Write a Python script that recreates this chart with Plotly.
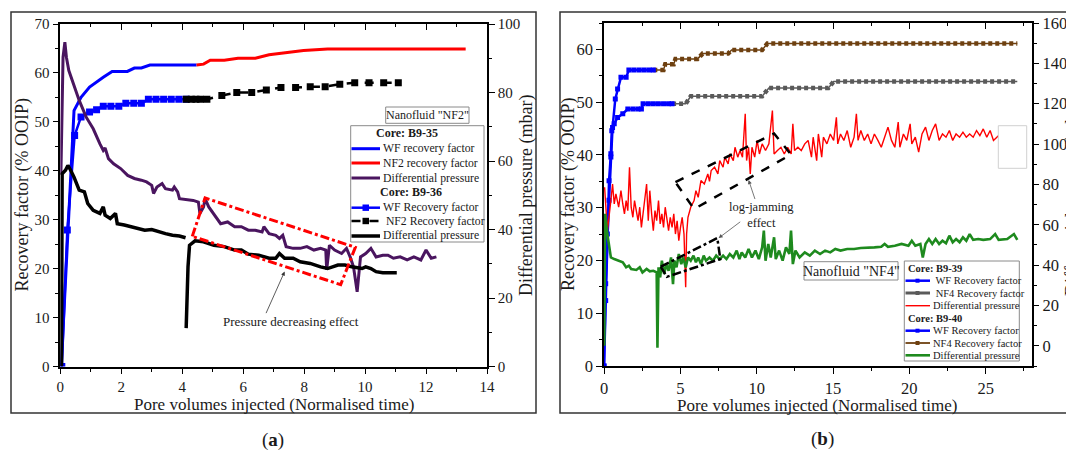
import plotly.graph_objects as go

W, H = 1074, 451
OFF = 8  # page body margin in the browser
FONT = "Liberation Serif"

# ---------------- Panel (a) data ----------------
a_wf35_x = [0.03, 0.45, 0.68, 0.96, 1.41, 1.70, 2.20, 2.43, 2.66, 2.94, 4.47]
a_wf35_y = [0.0, 52.3, 55.0, 57.1, 59.1, 60.3, 60.3, 61.0, 61.0, 61.6, 61.6]
a_nf2_35_x = [4.47, 4.70, 4.92, 5.38, 5.83, 6.40, 6.85, 7.41, 7.98, 8.77, 13.3]
a_nf2_35_y = [61.6, 61.8, 62.6, 62.6, 63.0, 63.0, 63.7, 64.1, 64.6, 64.9, 64.9]

a_wf36_x = [0.05, 0.23, 0.47, 0.68, 0.96, 1.19, 1.41, 1.66, 1.92, 2.15, 2.41, 2.66,
            2.89, 3.14, 3.39, 3.64, 3.89, 4.13]
a_wf36_y = [0.0, 27.9, 47.2, 51.0, 52.0, 52.5, 53.2, 53.2, 53.2, 53.8, 53.8, 53.8,
            54.6, 54.6, 54.6, 54.6, 54.6, 54.6]
a_nf2_36_x = [4.13, 4.30, 4.45, 4.60, 4.81, 5.30, 5.79, 6.28, 6.76, 7.24, 7.72, 8.20,
              8.69, 9.17, 9.66, 10.13, 10.61, 11.09]
a_nf2_36_y = [54.6, 54.6, 54.6, 54.6, 54.6, 55.4, 56.0, 56.0, 56.5, 57.0, 57.0, 57.2,
              57.2, 57.7, 58.0, 58.0, 58.0, 58.0]

a_dp35_x = [0.02, 0.09, 0.15, 0.20, 0.28, 0.45, 0.62, 0.85, 1.08, 1.30, 1.41, 1.47,
            1.58, 1.75, 1.98, 2.21, 2.43, 2.66, 2.83, 3.00, 3.06, 3.17, 3.34, 3.45,
            3.68, 3.74, 3.85, 3.91, 4.13, 4.36, 4.53, 4.58, 4.70, 4.75, 4.87, 5.09,
            5.26, 5.49, 5.72, 5.94, 6.17, 6.40, 6.62, 6.68, 6.85, 7.07, 7.19, 7.30,
            7.41, 7.64, 7.87, 8.09, 8.32, 8.54, 8.71, 8.74, 8.83, 9.00, 9.23, 9.39,
            9.51, 9.62, 9.74, 9.85, 10.02, 10.19, 10.36, 10.58, 10.75, 10.93, 11.15,
            11.38, 11.60, 11.83, 12.00, 12.17, 12.34]
a_dp35_y = [56.0, 90.3, 94.7, 90.3, 86.4, 82.0, 77.7, 72.8, 69.4, 65.0, 63.1, 63.8,
            60.7, 59.2, 57.8, 55.8, 54.9, 54.4, 53.9, 52.9, 50.5, 52.4, 53.4, 51.9,
            51.5, 52.4, 51.0, 49.0, 48.7, 48.5, 48.0, 44.7, 46.6, 49.0, 46.6, 43.7,
            41.7, 42.2, 40.8, 40.8, 39.8, 39.8, 39.3, 40.8, 38.8, 38.3, 37.4, 38.3,
            35.0, 34.5, 34.5, 35.0, 34.0, 34.5, 34.0, 28.2, 35.4, 34.0, 33.0, 34.5,
            32.0, 29.1, 21.8, 32.0, 33.0, 34.5, 32.0, 32.5, 32.5, 31.6, 32.0, 31.1,
            32.0, 31.1, 34.0, 31.6, 32.0]

a_dp36_x = [0.04, 0.06, 0.17, 0.25, 0.34, 0.45, 0.62, 0.79, 0.90, 1.08, 1.30, 1.41,
            1.47, 1.64, 1.81, 1.87, 2.10, 2.32, 2.55, 2.77, 3.00, 3.23, 3.45, 3.68,
            3.91, 4.11, None, 4.13, 4.19, 4.24, 4.42, 4.70, 5.04, 5.38, 5.72, 5.94,
            6.17, 6.51, 6.85, 7.07, 7.19, 7.36, 7.64, 7.87, 8.20, 8.54, 8.77, 9.11,
            9.34, 9.56, 9.90, 10.02, 10.19, 10.36, 10.58, 10.81, 11.04]
a_dp36_y = [0.0, 56.3, 57.3, 58.7, 57.3, 55.3, 51.5, 51.0, 47.6, 45.6, 44.7, 46.6,
            44.2, 43.2, 44.7, 41.7, 41.3, 40.8, 40.3, 39.8, 40.0, 39.3, 38.8, 38.3,
            38.1, 37.6, None, 11.2, 29.1, 35.4, 36.7, 36.4, 35.4, 35.0, 34.0, 34.0,
            32.8, 32.5, 31.6, 31.6, 33.0, 31.6, 31.6, 30.6, 30.1, 29.1, 28.6, 29.6,
            29.6, 29.1, 28.6, 29.1, 28.6, 27.7, 27.4, 27.4, 27.4]

# ---------------- Panel (b) data ----------------
b_wf39_x = [0.00, 0.11, 0.22, 0.33, 0.45, 0.51, 0.67, 0.89, 1.23, 1.56, 1.90, 2.23,
            2.45, 2.56, 2.90, 3.23, 3.56, 3.90, 4.23, 4.46]
b_wf39_y = [0.0, 12.4, 25.0, 35.1, 40.2, 44.6, 45.9, 47.1, 47.8, 48.7, 48.7, 48.7,
            48.7, 49.7, 49.7, 49.7, 49.7, 49.7, 49.7, 49.7]
b_nf4_39_x = [4.46, 5.35, 5.68, 10.36, 10.80, 14.70, 15.04, 27.07]
b_nf4_39_y = [49.7, 49.7, 51.1, 51.1, 52.7, 52.7, 53.9, 53.9]

b_wf40_x = [0.00, 0.11, 0.33, 0.45, 0.56, 0.74, 0.89, 1.11, 1.45, 1.63, 1.96, 2.30,
            2.63, 2.96, 3.23]
b_wf40_y = [0.0, 15.6, 31.4, 39.6, 45.2, 50.6, 52.5, 54.7, 54.7, 56.1, 56.1, 56.1,
            56.1, 56.1, 56.1]
b_nf4_40_x = [3.23, 3.90, 4.01, 4.57, 4.68, 6.13, 6.46, 8.13, 8.36, 10.36, 10.70, 27.07]
b_nf4_40_y = [56.1, 56.1, 57.2, 57.2, 58.2, 58.2, 59.2, 59.2, 59.9, 59.9, 61.1, 61.1]

b_dp39_x = [0.04, 0.11, 0.22, 0.45, 0.56, 0.67, 0.78, 0.96, 1.11, 1.23, 1.34, 1.45,
            1.56, 1.67, 1.78, 1.89, 2.00, 2.23, 2.34, 2.45, 2.56, 2.79, 2.90, 3.00,
            3.12, 3.23, 3.34, 3.45, 3.57, 3.68, 3.79, 3.90, 4.01, 4.12, 4.23, 4.34,
            4.46, 4.57, 4.68, 4.79, 4.90, 5.01, 5.12, 5.24, 5.35, 5.41, 5.50, 5.68,
            5.90, 6.02, 6.17, 6.35, 6.57, 6.80, 6.91, 7.02, 7.24, 7.46, 7.58, 7.80,
            7.91, 8.13, 8.24, 8.47, 8.58, 8.76, 8.91, 9.07, 9.25, 9.34, 9.47, 9.58,
            9.69, 9.87, 10.03, 10.18, 10.36, 10.58, 10.80, 11.03, 11.14, 11.36, 11.59,
            11.81, 12.03, 12.26, 12.37, 12.48, 12.70, 12.92, 13.15, 13.37, 13.59, 13.70,
            13.93, 14.04, 14.26, 14.37, 14.60, 14.82, 15.04, 15.22, 15.31, 15.49, 15.71,
            15.93, 16.16, 16.38, 16.53, 16.64, 16.82, 17.05, 17.27, 17.49, 17.71, 17.94,
            18.16, 18.38, 18.60, 18.83, 19.05, 19.27, 19.38, 19.61, 19.83, 20.05, 20.16,
            20.39, 20.61, 20.83, 21.06, 21.28, 21.50, 21.72, 21.95, 22.17, 22.40, 22.62,
            22.84, 23.06, 23.29, 23.51, 23.73, 23.95, 24.18, 24.40, 24.62, 24.84, 25.07,
            25.29, 25.51, 25.85]
b_dp39_y = [78.6, 68.7, 57.0, 72.0, 80.2, 70.3, 75.3, 68.7, 76.9, 70.3, 65.4, 72.0,
            67.0, 88.5, 68.7, 63.7, 72.0, 62.0, 68.7, 58.7, 65.4, 80.2, 62.0, 76.9,
            65.4, 57.1, 67.0, 62.0, 72.0, 60.4, 65.4, 58.7, 68.7, 62.0, 57.1, 63.7,
            58.7, 65.4, 55.4, 62.0, 52.1, 58.7, 63.7, 55.4, 29.0, 55.4, 63.7, 68.7,
            72.0, 76.9, 73.6, 81.9, 80.2, 85.2, 81.5, 86.9, 88.5, 85.2, 91.8, 88.5,
            93.5, 90.2, 95.1, 91.8, 98.4, 93.5, 96.8, 93.5, 115.0, 91.8, 98.4, 85.2,
            98.4, 93.5, 101.8, 95.1, 100.1, 96.8, 100.1, 116.6, 95.1, 96.8, 98.4,
            95.1, 98.4, 95.1, 110.0, 96.8, 98.4, 96.8, 100.1, 101.8, 93.5, 103.4,
            91.8, 105.0, 93.5, 103.4, 100.1, 105.0, 101.8, 113.3, 100.1, 105.0, 101.8,
            106.7, 98.4, 103.4, 115.0, 101.8, 106.7, 101.8, 105.0, 100.1, 105.0, 101.8,
            98.4, 103.4, 108.4, 101.8, 98.4, 110.9, 98.4, 105.0, 101.8, 110.0, 100.1,
            103.4, 96.0, 105.0, 108.4, 101.8, 106.7, 110.0, 101.8, 105.0, 103.4, 106.7,
            101.8, 105.0, 103.4, 105.9, 103.4, 105.0, 103.4, 106.7, 104.2, 107.5, 103.4,
            106.7, 101.8, 104.2]

b_dp40_x = [0.02, 0.07, 0.22, 0.33, 0.45, 0.67, 1.00, 1.23, 1.45, 1.63, 1.78, 2.12,
            2.34, 2.52, 2.79, 3.00, 3.23, 3.45, 3.50, 3.57, 3.68, 3.79, 3.94, 4.08,
            4.23, 4.39, 4.52, 4.61, 4.75, 4.90, 5.06, 5.19, 5.35, 5.50, 5.68, 5.86,
            6.02, 6.17, 6.35, 6.53, 6.68, 6.91, 7.13, 7.35, 7.58, 7.80, 8.02, 8.24,
            8.47, 8.69, 8.87, 9.02, 9.25, 9.47, 9.69, 9.92, 10.14, 10.36, 10.47, 10.58,
            10.76, 10.92, 11.14, 11.25, 11.47, 11.70, 11.92, 12.14, 12.25, 12.37, 12.54,
            12.81, 13.15, 13.48, 13.81, 14.15, 14.48, 14.82, 15.15, 15.49, 15.93, 16.38,
            16.82, 17.27, 17.71, 18.16, 18.38, 18.60, 19.05, 19.49, 19.94, 20.16, 20.39,
            20.72, 20.88, 21.06, 21.28, 21.50, 21.72, 21.95, 22.17, 22.40, 22.62, 22.84,
            23.06, 23.29, 23.51, 23.73, 23.95, 24.18, 24.51, 24.84, 25.29, 25.62, 25.85,
            26.41, 26.85, 27.07]
b_dp40_y = [0.0, 65.4, 55.4, 48.8, 43.8, 43.0, 42.2, 41.4, 38.9, 39.7, 38.1, 37.6,
            38.9, 36.4, 38.1, 36.9, 37.2, 36.4, -1.0, 38.9, 33.9, 42.2, 35.6, 40.5,
            37.2, 43.8, 30.6, 42.2, 38.9, 45.5, 40.5, 43.8, 38.9, 43.8, 42.2, 44.7,
            41.4, 43.8, 40.5, 44.7, 42.2, 43.8, 42.2, 44.7, 43.0, 44.7, 43.0, 45.5,
            43.8, 47.2, 43.0, 46.3, 43.8, 48.0, 43.8, 47.2, 43.0, 48.8, 57.1, 42.2,
            50.5, 43.8, 53.8, 43.0, 47.2, 42.2, 48.8, 45.5, 57.1, 40.5, 47.2,
            43.8, 46.3, 44.7, 47.2, 45.5, 47.2, 46.3, 48.0, 47.2, 48.0, 48.0,
            48.5, 48.5, 48.8, 49.1, 50.5, 49.1, 49.6, 50.5, 49.6, 52.1, 49.6,
            50.5, 43.8, 50.5, 52.9, 50.5, 52.9, 50.5, 52.1, 50.8, 54.6, 51.3,
            52.9, 51.3, 53.8, 52.1, 55.4, 52.5, 52.9, 52.5, 52.9, 55.4, 52.5,
            52.9, 55.4, 52.5]

# annotation outlines (data coordinates)
a_box_x = [4.33, 4.75, 9.68, 9.20, 4.33]
a_box_p = [38.0, 49.2, 34.8, 23.9, 38.0]
b_box1_x = [4.68, 11.14, 12.25, 5.90, 4.68]
b_box1_p = [81.1, 105.2, 94.8, 67.8, 81.1]
b_box2_x = [3.72, 7.42, 7.62, 4.12, 3.72]
b_box2_p = [39.2, 53.4, 43.0, 34.2, 39.2]

BLUE = "#0000ff"
RED = "#ff0000"
PURPLE = "#4a155f"
GREY = "#5a5a5a"
BROWN = "#6e4010"
GREEN = "#1e8a1e"


def px(x):
    return (x - OFF) / W


def py(y):
    return 1 - (y - OFF) / H


fig = go.Figure()

# panel (a)
fig.add_trace(go.Scatter(x=a_wf35_x, y=a_wf35_y, mode="lines", line=dict(color=BLUE, width=3),
                         xaxis="x", yaxis="y", showlegend=False))
fig.add_trace(go.Scatter(x=a_nf2_35_x, y=a_nf2_35_y, mode="lines", line=dict(color=RED, width=3),
                         xaxis="x", yaxis="y", showlegend=False))
fig.add_trace(go.Scatter(x=a_dp35_x, y=a_dp35_y, mode="lines", line=dict(color=PURPLE, width=3),
                         xaxis="x", yaxis="y2", showlegend=False))
fig.add_trace(go.Scatter(x=a_dp36_x, y=a_dp36_y, mode="lines", line=dict(color="black", width=3.5),
                         xaxis="x", yaxis="y2", showlegend=False, connectgaps=False))
fig.add_trace(go.Scatter(x=a_wf36_x, y=a_wf36_y, mode="lines+markers",
                         line=dict(color=BLUE, width=2.5),
                         marker=dict(symbol="square", size=7, color=BLUE),
                         xaxis="x", yaxis="y", showlegend=False))
fig.add_trace(go.Scatter(x=a_nf2_36_x, y=a_nf2_36_y, mode="lines+markers",
                         line=dict(color="black", width=2.5, dash="dash"),
                         marker=dict(symbol="square", size=7, color="black"),
                         xaxis="x", yaxis="y", showlegend=False))
fig.add_trace(go.Scatter(x=[None], y=[None], xaxis="x3", yaxis="y", showlegend=False))

# panel (b)
fig.add_trace(go.Scatter(x=b_dp39_x, y=b_dp39_y, mode="lines", line=dict(color=RED, width=1.4),
                         xaxis="x2", yaxis="y4", showlegend=False))
fig.add_trace(go.Scatter(x=b_dp40_x, y=b_dp40_y, mode="lines", line=dict(color=GREEN, width=2.6),
                         xaxis="x2", yaxis="y4", showlegend=False))
for xs, ys, col in [(b_nf4_39_x, b_nf4_39_y, GREY), (b_nf4_40_x, b_nf4_40_y, BROWN)]:
    fig.add_trace(go.Scatter(x=xs, y=ys, mode="lines", line=dict(color=col, width=1.5),
                             xaxis="x2", yaxis="y3", showlegend=False))
    fig.add_trace(go.Scatter(x=xs, y=ys, mode="lines", line=dict(color=col, width=4.5, dash="4px,3px"),
                             xaxis="x2", yaxis="y3", showlegend=False))
for xs, ys in [(b_wf39_x, b_wf39_y), (b_wf40_x, b_wf40_y)]:
    fig.add_trace(go.Scatter(x=xs, y=ys, mode="lines+markers", line=dict(color=BLUE, width=2.5),
                             marker=dict(size=5, color=BLUE, symbol="square"),
                             xaxis="x2", yaxis="y3", showlegend=False))
fig.add_trace(go.Scatter(x=[None], y=[None], xaxis="x4", yaxis="y3", showlegend=False))

# dashed outline shapes
fig.add_trace(go.Scatter(x=a_box_x, y=a_box_p, mode="lines", line=dict(color=RED, width=3, dash="dashdot"),
                         xaxis="x", yaxis="y2", showlegend=False, hoverinfo="skip"))
fig.add_trace(go.Scatter(x=b_box1_x, y=b_box1_p, mode="lines", line=dict(color="black", width=2.5, dash="dash"),
                         xaxis="x2", yaxis="y4", showlegend=False, hoverinfo="skip"))
fig.add_trace(go.Scatter(x=b_box2_x, y=b_box2_p, mode="lines", line=dict(color="black", width=2.5, dash="dashdot"),
                         xaxis="x2", yaxis="y4", showlegend=False, hoverinfo="skip"))

tickfont_a = dict(family=FONT, size=15, color="#1a1a1a")
tickfont_b = dict(family=FONT, size=16.5, color="#1a1a1a")
ax_common = dict(showline=True, linecolor="black", linewidth=1.5, showgrid=False, zeroline=False,
                 ticks="outside", ticklen=6, tickwidth=1.3, tickcolor="black", automargin=False)
top_common = dict(showticklabels=False, showline=True, linecolor="black", linewidth=1.5, showgrid=False,
                  zeroline=False, ticks="inside", ticklen=6, tickwidth=1.3, tickcolor="black",
                  automargin=False)
minor_out = lambda d: dict(dtick=d, ticks="outside", ticklen=3.5, tickwidth=1.2, tickcolor="black")
minor_in = lambda d: dict(dtick=d, ticks="inside", ticklen=3.5, tickwidth=1.2, tickcolor="black")

dom_ax = [px(60.3), px(487)]
dom_ay = [py(366.5), py(24)]
dom_bx = [px(604), px(1031.5)]
dom_by = [py(366), py(23)]

fig.update_layout(
    template="none",
    width=W, height=H, autosize=False,
    margin=dict(l=0, r=0, t=0, b=0, pad=0),
    paper_bgcolor="white", plot_bgcolor="white",
    showlegend=False,
    xaxis=dict(domain=dom_ax, range=[0, 14], dtick=2, tick0=0, anchor="y", tickfont=tickfont_a,
               minor=minor_out(1), **ax_common),
    xaxis3=dict(domain=dom_ax, range=[0, 14], dtick=2, tick0=0, anchor="y", overlaying="x", side="top",
                minor=minor_in(1), **top_common),
    yaxis=dict(domain=dom_ay, range=[0, 70], dtick=10, tick0=0, anchor="x", tickfont=tickfont_a,
               minor=minor_out(5), **ax_common),
    yaxis2=dict(domain=dom_ay, range=[0, 100], dtick=20, tick0=0, anchor="x", overlaying="y", side="right",
                tickfont=tickfont_a, minor=minor_out(10), **ax_common),
    xaxis2=dict(domain=dom_bx, range=[0, 28], dtick=5, tick0=0, anchor="y3", tickfont=tickfont_b,
                minor=minor_out(2.5), **ax_common),
    xaxis4=dict(domain=dom_bx, range=[0, 28], dtick=5, tick0=0, anchor="y3", overlaying="x2", side="top",
                minor=minor_in(2.5), **top_common),
    yaxis3=dict(domain=dom_by, range=[0, 65], dtick=10, tick0=0, anchor="x2", tickfont=tickfont_b,
                minor=minor_out(5), **ax_common),
    yaxis4=dict(domain=dom_by, range=[-10, 160], dtick=20, tick0=0, anchor="x2", overlaying="y3",
                side="right", tickfont=tickfont_b, minor=minor_out(10), **ax_common),
)

shapes = []
ann = []

# panel borders
shapes.append(dict(type="rect", xref="paper", yref="paper", x0=px(11), x1=px(536), y0=py(413), y1=py(12),
                   line=dict(color="#333333", width=1.5)))
shapes.append(dict(type="rect", xref="paper", yref="paper", x0=px(560), x1=px(1085), y0=py(413), y1=py(12),
                   line=dict(color="#333333", width=1.5)))


def text(x, y, s, size, anchor="center", angle=0, color="#1a1a1a"):
    ann.append(dict(x=px(x), y=py(y), xref="paper", yref="paper", text=s, showarrow=False,
                    xanchor=anchor, yanchor="middle", textangle=angle,
                    font=dict(family=FONT, size=size, color=color)))


# axis titles
text(273.5, 404.5, "Pore volumes injected (Normalised time)", 17)
text(22.5, 195, "Recovery factor (% OOIP)", 18, angle=-90)
text(527, 195, "Differential pressure (mbar)", 18, angle=-90)
text(817, 405, "Pore volumes injected (Normalised time)", 17)
text(569, 195, "Recovery factor (% OOIP)", 18, angle=-90)
text(1073, 195, "Differential pressure (mbar)", 18, angle=-90)
# panel labels
text(273, 440, "(<b>a</b>)", 19)
text(822, 439, "(<b>b</b>)", 19)

# legend (a)
shapes.append(dict(type="rect", xref="paper", yref="paper", x0=px(385.7), x1=px(469), y0=py(123.3), y1=py(107),
                   line=dict(color="#8a8a8a", width=1)))
text(427.3, 115.2, "Nanofluid \"NF2\"", 12)
shapes.append(dict(type="rect", xref="paper", yref="paper", x0=px(350.7), x1=px(484), y0=py(242), y1=py(125.7),
                   line=dict(color="#8a8a8a", width=1), fillcolor="white"))
rows_a = [133.3, 148.7, 163.0, 178.0, 192.0, 207.7, 221.0, 236.0]
text(407, rows_a[0], "<b>Core: B9-35</b>", 12)
text(411, rows_a[4], "<b>Core: B9-36</b>", 12)
leg_a = [(rows_a[1], BLUE, 3, None, None, "WF recovery factor"),
         (rows_a[2], RED, 3, None, None, "NF2 recovery factor"),
         (rows_a[3], PURPLE, 3, None, None, "Differential pressure"),
         (rows_a[5], BLUE, 2.5, None, BLUE, "WF Recovery factor"),
         (rows_a[6], "black", 2.5, "dash", "black", " NF2 Recovery factor"),
         (rows_a[7], "black", 3.5, None, None, "Differential pressure")]
for yy, col, wd, dsh, mk, lab in leg_a:
    shapes.append(dict(type="line", xref="paper", yref="paper", x0=px(351.5), x1=px(380), y0=py(yy), y1=py(yy),
                       line=dict(color=col, width=wd, dash=dsh or "solid")))
    if mk:
        shapes.append(dict(type="rect", xref="paper", yref="paper", x0=px(362.5), x1=px(369), y0=py(yy + 3.2),
                           y1=py(yy - 3.2), line=dict(width=0), fillcolor=mk))
    text(381, yy, lab, 11.7, anchor="left")

# legend (b)
shapes.append(dict(type="rect", xref="paper", yref="paper", x0=px(804), x1=px(898), y0=py(280), y1=py(261.7),
                   line=dict(color="#8a8a8a", width=1)))
text(851, 271, "Nanofluid \"NF4\"", 14)
shapes.append(dict(type="rect", xref="paper", yref="paper", x0=px(904.3), x1=px(1019.3), y0=py(361), y1=py(261),
                   line=dict(color="#8a8a8a", width=1), fillcolor="white"))
rows_b = [268.3, 280.7, 293.0, 305.7, 318.0, 330.7, 343.0, 355.3]
text(906, rows_b[0], "<b>Core: B9-39</b>", 10.5, anchor="left")
text(906, rows_b[4], "<b>Core: B9-40</b>", 10.5, anchor="left")
leg_b = [(rows_b[1], BLUE, 2.5, BLUE, " WF Recovery factor"),
         (rows_b[2], GREY, 3, GREY, " NF4 Recovery factor"),
         (rows_b[3], RED, 1.4, None, "Differential pressure"),
         (rows_b[5], BLUE, 2.5, BLUE, "WF Recovery factor"),
         (rows_b[6], BROWN, 1.8, BROWN, "NF4 Recovery factor"),
         (rows_b[7], GREEN, 2.6, None, "Differential pressure")]
for yy, col, wd, mk, lab in leg_b:
    shapes.append(dict(type="line", xref="paper", yref="paper", x0=px(905.5), x1=px(930), y0=py(yy), y1=py(yy),
                       line=dict(color=col, width=wd)))
    if mk:
        shapes.append(dict(type="rect", xref="paper", yref="paper", x0=px(915.5), x1=px(919.5), y0=py(yy + 2),
                           y1=py(yy - 2), line=dict(width=0), fillcolor=mk))
    text(931, yy, lab, 10.5, anchor="left")

# empty light box on panel (b)
shapes.append(dict(type="rect", xref="paper", yref="paper", x0=px(998.3), x1=px(1026.7), y0=py(168.3),
                   y1=py(125.7), line=dict(color="#d0d0d0", width=1), fillcolor="white"))

# arrows / notes
ann.append(dict(x=7.36, y=19.4, xref="x", yref="y", ax=6.73, ay=10.6, axref="x", ayref="y",
                showarrow=True, arrowhead=2, arrowsize=1, arrowwidth=0.8, arrowcolor="#333333", text=""))
ann.append(dict(x=7.58, y=9.2, xref="x", yref="y", text="Pressure decreasing effect", showarrow=False,
                font=dict(family=FONT, size=13, color="#1a1a1a")))
ann.append(dict(x=9.47, y=82.2, xref="x2", yref="y4", ax=9.92, ay=72.0, axref="x2", ayref="y4",
                showarrow=True, arrowhead=2, arrowsize=1, arrowwidth=0.8, arrowcolor="#555555", text=""))
ann.append(dict(x=7.51, y=53.4, xref="x2", yref="y4", ax=9.02, ay=62.0, axref="x2", ayref="y4",
                showarrow=True, arrowhead=2, arrowsize=1, arrowwidth=0.8, arrowcolor="#555555", text=""))
ann.append(dict(x=10.3, y=65.0, xref="x2", yref="y4", text="log-jamming<br>effect", showarrow=False,
                font=dict(family=FONT, size=12.5, color="#1a1a1a")))

fig.update_layout(shapes=shapes, annotations=ann)
fig.write_html("out.html")
